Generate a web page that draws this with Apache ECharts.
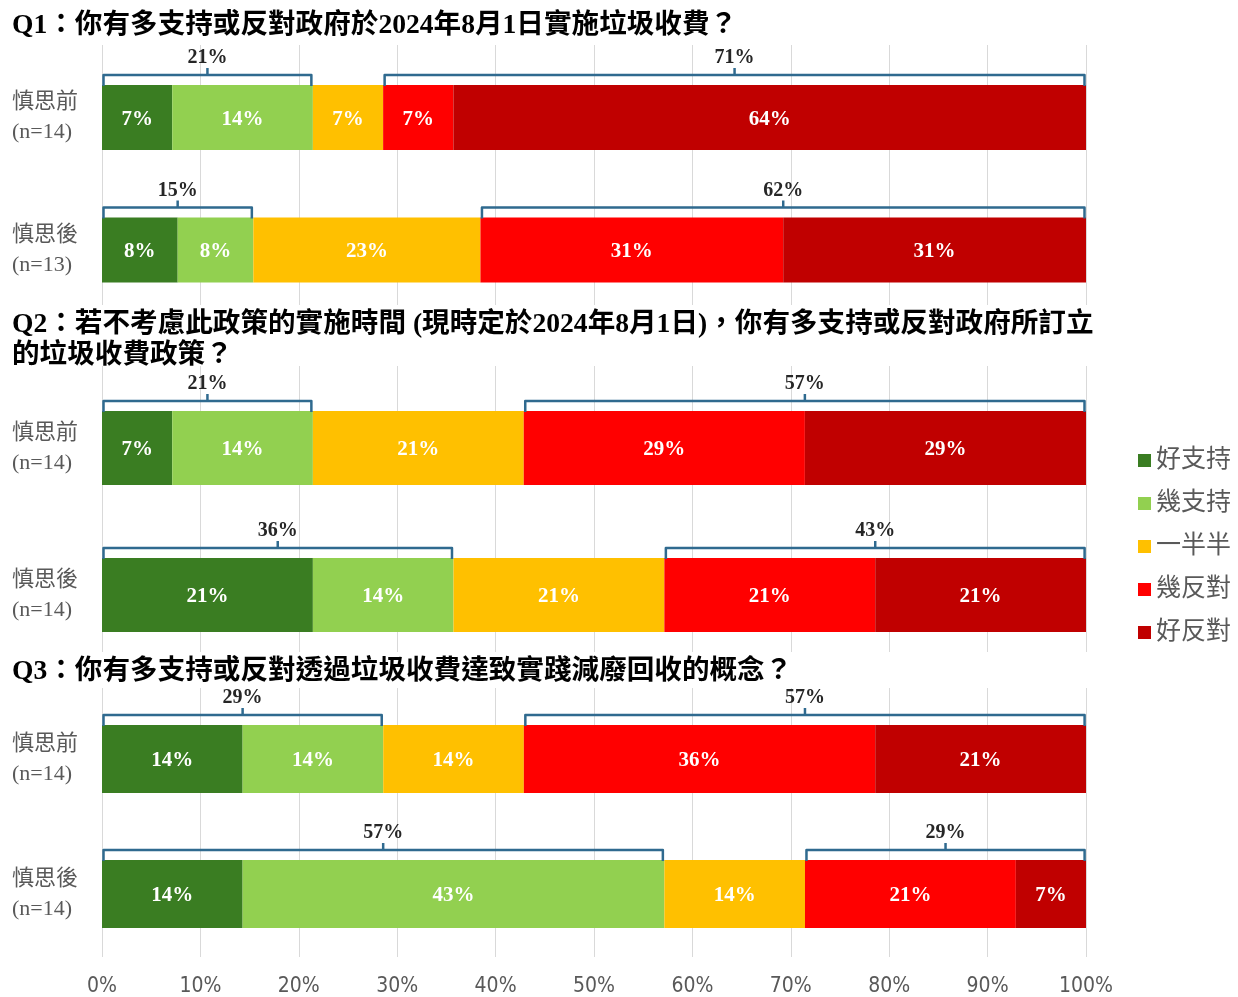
<!DOCTYPE html>
<html><head><meta charset="utf-8">
<script src="https://cdn.jsdelivr.net/npm/echarts@6/dist/echarts.min.js"></script>
<style>html,body{margin:0;padding:0;background:#fff}#c{width:1238px;height:997px}</style>
</head><body><div id="c"></div>
<script>
const seriesNames = ['好支持', '幾支持', '一半半', '幾反對', '好反對'];
const titles = [
  'Q1：你有多支持或反對政府於2024年8月1日實施垃圾收費？',
  'Q2：若不考慮此政策的實施時間 (現時定於2024年8月1日)，你有多支持或反對政府所訂立\n的垃圾收費政策？',
  'Q3：你有多支持或反對透過垃圾收費達致實踐減廢回收的概念？'
];
const q1Categories = ['慎思前\n(n=14)', '慎思後\n(n=13)'];
const q2Categories = ['慎思前\n(n=14)', '慎思後\n(n=14)'];
const q3Categories = ['慎思前\n(n=14)', '慎思後\n(n=14)'];
const q1Before = [7.14, 14.29, 7.14, 7.14, 64.29];
const q1After  = [7.69, 7.69, 23.08, 30.77, 30.77];
const q2Before = [7.14, 14.29, 21.43, 28.57, 28.57];
const q2After  = [21.43, 14.29, 21.43, 21.43, 21.43];
const q3Before = [14.29, 14.29, 14.29, 35.71, 21.43];
const q3After  = [14.29, 42.86, 14.29, 21.43, 7.14];
const xTicks = [0, 10, 20, 30, 40, 50, 60, 70, 80, 90, 100];

const colors = ['#3A7D22', '#92D050', '#FFC000', '#FF0000', '#C00000'];
const bracketColor = '#2F6A8F';
const serif = "'Liberation Serif','Noto Sans CJK TC'";

const panels = [
  { cats: q1Categories, rows: [q1Before, q1After], gridTop: 51.25, gridH: 265, barW: 65, lineTop: 45, lineBottom: 305, titleTop: 5 },
  { cats: q2Categories, rows: [q2Before, q2After], gridTop: 374.5, gridH: 294, barW: 74, lineTop: 366, lineBottom: 652, titleTop: 304 },
  { cats: q3Categories, rows: [q3Before, q3After], gridTop: 691.5, gridH: 270, barW: 68, lineTop: 688, lineBottom: 965, titleTop: 651 }
];

const grid = [], xAxis = [], yAxis = [], series = [], title = [];
panels.forEach((p, pi) => {
  title.push({ text: titles[pi], left: 7, top: p.titleTop,
    textStyle: { fontSize: 27.6, fontWeight: 'bold', color: '#000', fontFamily: serif, lineHeight: 31 } });
  const gi = grid.length;
  grid.push({ left: 102, right: 152, top: p.lineTop, height: p.lineBottom - p.lineTop });
  xAxis.push({ gridIndex: gi, type: 'value', min: xTicks[0], max: xTicks[xTicks.length - 1], interval: 10,
    axisLine: { show: false }, axisTick: { show: false },
    splitLine: { show: true, lineStyle: { color: '#D9D9D9', width: 1 } },
    axisLabel: { show: pi === 2, margin: 19, formatter: v => v + '%', color: '#595959', fontSize: 21,
      fontFamily: "'DejaVu Sans Condensed','Liberation Sans Narrow',sans-serif" } });
  yAxis.push({ gridIndex: gi, type: 'value', show: false, min: 0, max: 1 });
  const bi = grid.length;
  grid.push({ left: 102, right: 152, top: p.gridTop, height: p.gridH });
  xAxis.push({ gridIndex: bi, type: 'value', min: 0, max: 100, show: false });
  yAxis.push({ gridIndex: bi, type: 'category', data: p.cats, inverse: true,
    axisLine: { show: false }, axisTick: { show: false },
    axisLabel: { margin: 90, align: 'left', fontSize: 22, lineHeight: 30, color: '#595959', fontFamily: serif } });
  const axisIdx = xAxis.length - 1;
  seriesNames.forEach((name, si) => {
    series.push({
      name, type: 'bar', stack: 'p' + pi, xAxisIndex: axisIdx, yAxisIndex: axisIdx,
      barWidth: p.barW, itemStyle: { color: colors[si] },
      label: { show: true, position: 'inside', offset: [0, 2], formatter: d => Math.round(d.value) + '%',
        color: '#fff', fontWeight: 'bold', fontSize: 21, fontFamily: serif },
      data: p.rows.map(r => r[si])
    });
  });
  const bData = [];
  p.rows.forEach((r, ri) => {
    const sup = r[0] + r[1];
    const oppStart = r[0] + r[1] + r[2];
    const total = oppStart + r[3] + r[4];
    bData.push([ri, 0, sup]);
    bData.push([ri, oppStart, total]);
  });
  const bw = p.barW;
  series.push({
    type: 'custom', xAxisIndex: axisIdx, yAxisIndex: axisIdx, encode: { x: [1, 2], y: 0 },
    data: bData, z: 5,
    renderItem: (params, api) => {
      const cat = api.value(0), x0 = api.value(1), x1 = api.value(2);
      const p0 = api.coord([x0, cat]), p1 = api.coord([x1, cat]);
      const top = p0[1] - bw / 2;
      const yl = top - 10;
      const xa = p0[0] + 1.5, xb = p1[0] - 1.5, mid = (xa + xb) / 2;
      const label = Math.round(x1 - x0) + '%';
      return { type: 'group', children: [
        { type: 'polyline', shape: { points: [[xa, top + 1], [xa, yl], [xb, yl], [xb, top + 1]] },
          style: { stroke: bracketColor, lineWidth: 2.5, fill: null, lineJoin: 'round' } },
        { type: 'line', shape: { x1: mid, y1: yl, x2: mid, y2: yl - 7 },
          style: { stroke: bracketColor, lineWidth: 2.5 } },
        { type: 'text', style: { text: label, x: mid, y: yl - 7, textAlign: 'center', textVerticalAlign: 'bottom',
          font: "bold 20px 'Liberation Serif'", fill: '#262626' } }
      ] };
    }
  });
});

const chart = echarts.init(document.getElementById('c'));
chart.setOption({
  animation: false,
  backgroundColor: '#fff',
  title, grid, xAxis, yAxis, series,
  legend: { data: seriesNames, orient: 'vertical', left: 1133, top: 443, itemWidth: 13, itemHeight: 13,
    itemGap: 18, icon: 'rect', textStyle: { fontSize: 25, color: '#595959', fontFamily: serif } }
});
</script></body></html>
